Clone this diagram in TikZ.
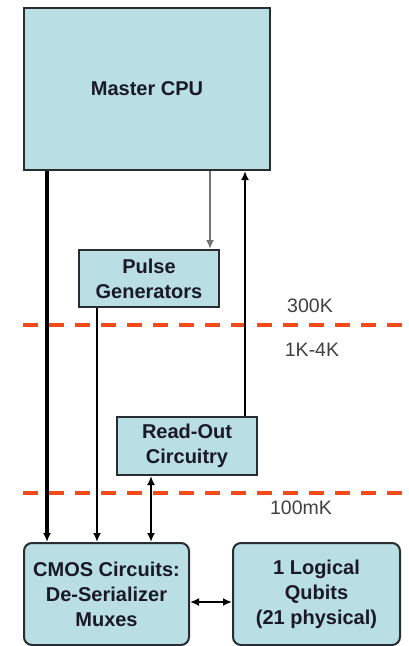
\documentclass[tikz,border=0pt]{standalone}
\usepackage{fontspec}
\setmainfont{Liberation Sans}
\usetikzlibrary{arrows.meta}
\definecolor{boxfill}{RGB}{185,222,227}
\definecolor{boxline}{RGB}{40,45,50}
\definecolor{templine}{RGB}{245,75,25}
\definecolor{txt}{RGB}{25,25,40}
\tikzset{
  box/.style={draw=boxline, line width=2pt, fill=boxfill, align=center, inner sep=0pt,
    font=\fontsize{20}{25}\selectfont\bfseries, text=txt},
  rbox/.style={box, rounded corners=8pt},
  tip/.style={-{Latex[length=9pt,width=8pt]}},
  dtip/.style={{Latex[length=9pt,width=8pt]}-{Latex[length=9pt,width=8pt]}},
  temp/.style={draw=templine, line width=3.8pt, dash pattern=on 15pt off 11pt},
  templabel/.style={font=\fontsize{19.5}{22}\selectfont, text=black!75, inner sep=0pt},
}
\begin{document}
\begin{tikzpicture}[x=1pt,y=-1pt]
\useasboundingbox (0,0) rectangle (409,646);
% temperature boundaries
\coordinate (d1a) at (23,325); \coordinate (d1b) at (409,325);
\coordinate (d2a) at (23,493); \coordinate (d2b) at (409,493);
\draw[temp] (d1a) -- (d1b);
\draw[temp] (d2a) -- (d2b);
\node[templabel] (t300) at (310,306) {300K};
\node[templabel] (t1k) at (312,350) {1K-4K};
\node[templabel] (t100) at (301,508) {100mK};
% boxes
\node[box, minimum width=246pt, minimum height=162pt] (cpu) at (147,89) {Master CPU};
\node[box, minimum width=140pt, minimum height=57pt] (pulse) at (149,278.5) {Pulse\\Generators};
\node[box, minimum width=140pt, minimum height=58pt] (read) at (187,446) {Read-Out\\Circuitry};
\node[rbox, minimum width=165pt, minimum height=102pt] (cmos) at (106.5,594) {CMOS Circuits:\\De-Serializer\\Muxes};
\node[rbox, minimum width=167pt, minimum height=102pt] (qub) at (316.5,594) {1 Logical\\Qubits\\(21 physical)};
% connector x positions
\coordinate (xa) at (47,0);
\coordinate (xb) at (97,0);
\coordinate (xc) at (210,0);
\coordinate (xd) at (245,0);
\coordinate (xe) at (151,0);
% connectors
\draw[tip, line width=3.2pt] (cpu.south -| xa) -- (cmos.north -| xa);
\draw[tip, line width=2.2pt] (pulse.south -| xb) -- (cmos.north -| xb);
\draw[tip, line width=1.8pt, draw=black!55] (cpu.south -| xc) -- (pulse.north -| xc);
\draw[tip, line width=2.6pt] (read.north -| xd) -- (cpu.south -| xd);
\draw[dtip, line width=2.2pt] (read.south -| xe) -- (cmos.north -| xe);
\draw[dtip, line width=2.8pt] (cmos.east) ++(0,8) coordinate (ce) -- (qub.west |- ce);
\end{tikzpicture}
\end{document}
